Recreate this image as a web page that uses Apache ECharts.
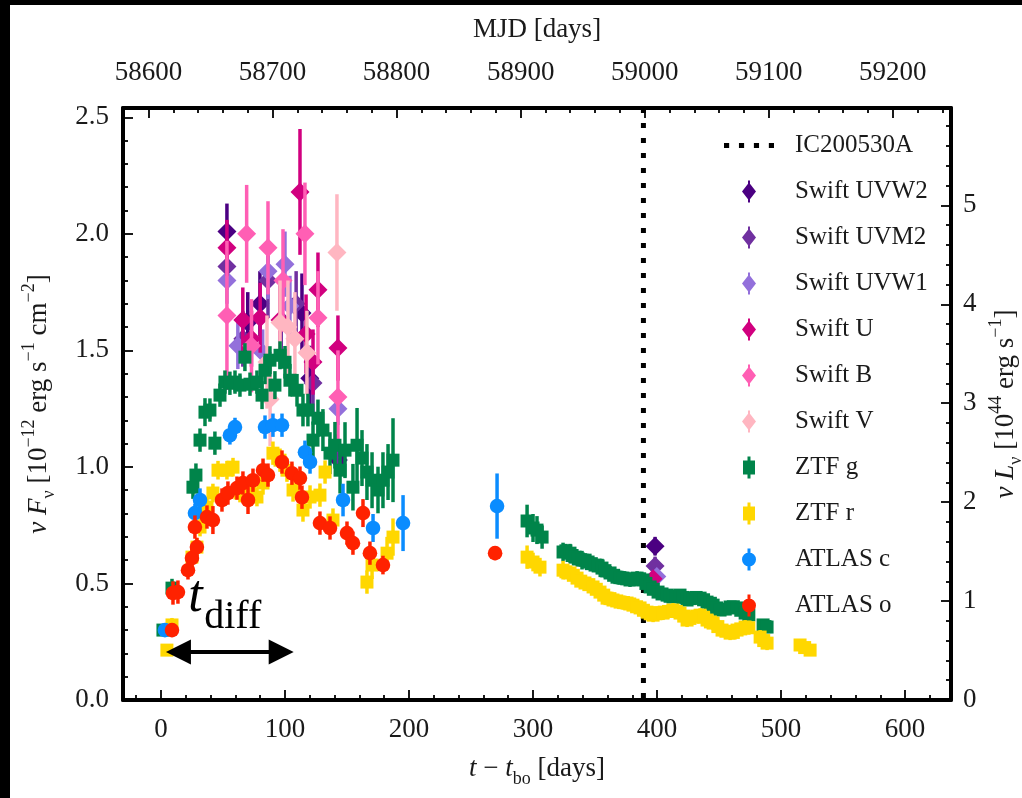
<!DOCTYPE html>
<html><head><meta charset="utf-8">
<script src="https://cdn.jsdelivr.net/npm/echarts@6/dist/echarts.min.js"></script>
<style>
html,body{margin:0;padding:0;background:#000;width:1022px;height:798px;overflow:hidden}
#c{position:absolute;left:10px;top:5px;width:1012px;height:793px;background:#fff}
</style></head><body><div id="c"></div>
<script>
// ---------- axis ranges / ticks ----------
const T_MIN = -30.6, T_MAX = 637;
const F_MIN = 0, F_MAX = 2.54;
const L_PER_F = 2.356;          // 10^44 erg/s per 10^-12 erg/s/cm2
const MJD_OFFSET = 58610;       // MJD of t_bo
const xMajor = [0, 100, 200, 300, 400, 500, 600];
const xMinor = [-20, 20, 40, 60, 80, 120, 140, 160, 180, 220, 240, 260, 280, 320, 340, 360, 380, 420, 440, 460, 480, 520, 540, 560, 580, 620];
const mjdMajor = [58600, 58700, 58800, 58900, 59000, 59100, 59200];
const mjdMinor = [58580, 58620, 58640, 58660, 58680, 58720, 58740, 58760, 58780, 58820, 58840, 58860, 58880, 58920, 58940, 58960, 58980, 59020, 59040, 59060, 59080, 59120, 59140, 59160, 59180, 59220, 59240];
const fMajor = [0, 0.5, 1.0, 1.5, 2.0, 2.5];
const fMinor = [0.1, 0.2, 0.3, 0.4, 0.6, 0.7, 0.8, 0.9, 1.1, 1.2, 1.3, 1.4, 1.6, 1.7, 1.8, 1.9, 2.1, 2.2, 2.3, 2.4];
const lMajor = [0, 1, 2, 3, 4, 5];
const lMinor = [0.2, 0.4, 0.6, 0.8, 1.2, 1.4, 1.6, 1.8, 2.2, 2.4, 2.6, 2.8, 3.2, 3.4, 3.6, 3.8, 4.2, 4.4, 4.6, 4.8, 5.2, 5.4, 5.6, 5.8];

// ---------- neutrino ----------
const icTime = [389];

// ---------- data: [t - t_bo (days), nuFnu (1e-12), error] ----------
const swiftUVW2 = [[53.2,2.01,0.12],[70,1.62,0.13],[79.8,1.70,0.14],[113.7,1.66,0.17],[120,1.38,0.14],[143,1.03,0.06],[398.4,0.66,0.04]];
const swiftUVM2 = [[53.2,1.86,0.10],[66,1.55,0.12],[86.3,1.80,0.16],[97,1.63,0.15],[109,1.70,0.14],[122.6,1.36,0.13],[142,1.07,0.07],[398.4,0.575,0.04]];
const swiftUVW1 = [[53.2,1.80,0.10],[62,1.52,0.10],[82,1.49,0.10],[86.3,1.84,0.12],[100,1.87,0.14],[104,1.69,0.13],[142.7,1.25,0.07],[399.8,0.53,0.03]];
const swiftU = [[53.2,1.94,0.12],[66,1.63,0.14],[73,1.55,0.12],[80,1.64,0.15],[96,1.63,0.16],[112.1,2.18,0.27],[117,1.57,0.17],[122.6,1.45,0.14],[126.6,1.76,0.16],[142.7,1.51,0.14],[396.8,0.52,0.03]];
const swiftB = [[53.2,1.65,0.32],[69.1,2.00,0.21],[73,1.52,0.20],[86.3,1.94,0.20],[98.4,1.80,0.22],[116.1,2.00,0.22],[126.6,1.64,0.20],[142.7,1.30,0.20]];
const swiftV = [[85.5,1.45,0.20],[88,1.29,0.20],[96,1.62,0.18],[102.4,1.60,0.20],[108,1.55,0.20],[117.7,1.49,0.18],[141.9,1.92,0.25]];
const ztfG = [[1.6,0.300,0.02],[8.9,0.480,0.04],[25.8,0.913,0.05],[28.2,0.965,0.05],[31.5,1.115,0.05],[35.5,1.235,0.06],[39.5,1.244,0.05],[43.5,1.102,0.05],[47.6,1.308,0.05],[51.6,1.364,0.05],[55.6,1.359,0.05],[59.7,1.364,0.05],[63.7,1.351,0.05],[67.7,1.471,0.06],[71.8,1.355,0.05],[77.4,1.364,0.05],[81.5,1.308,0.06],[83.9,1.415,0.06],[87.9,1.458,0.06],[91.9,1.351,0.06],[96.0,1.479,0.06],[100.0,1.449,0.07],[104.0,1.372,0.07],[109.7,1.329,0.07],[114.5,1.244,0.07],[118.5,1.244,0.07],[122.6,1.115,0.08],[126.6,1.209,0.08],[130.6,1.158,0.09],[136.3,1.059,0.09],[140.3,1.093,0.10],[144.4,0.986,0.10],[148.4,1.072,0.12],[154.8,0.913,0.10],[158.1,1.093,0.16],[162.1,1.038,0.12],[166.1,0.978,0.12],[170.2,0.943,0.12],[175.0,0.901,0.10],[179.0,0.943,0.12],[183.1,0.978,0.12],[187.1,1.029,0.18],[295.2,0.768,0.07],[300.0,0.738,0.06],[303.2,0.729,0.06],[307.3,0.699,0.05],[324.2,0.635,0.04],[326.5,0.640,0.03],[329.8,0.630,0.04],[331.5,0.620,0.03],[333.9,0.613,0.03],[336.5,0.605,0.03],[339.5,0.600,0.04],[342.0,0.600,0.03],[344.4,0.592,0.03],[347.0,0.585,0.03],[350.0,0.579,0.03],[352.5,0.575,0.03],[355.6,0.566,0.04],[358.0,0.555,0.03],[362.1,0.545,0.03],[365.0,0.535,0.03],[367.7,0.527,0.03],[370.0,0.525,0.03],[372.6,0.523,0.03],[375.5,0.520,0.03],[378.2,0.515,0.03],[381.0,0.518,0.03],[383.9,0.523,0.03],[386.0,0.520,0.03],[388.7,0.515,0.03],[391.0,0.500,0.03],[394.4,0.485,0.03],[397.0,0.475,0.02],[400.8,0.463,0.02],[404.0,0.455,0.02],[408.1,0.450,0.02],[410.5,0.445,0.02],[412.9,0.442,0.02],[415.5,0.445,0.02],[418.5,0.450,0.02],[421.0,0.440,0.02],[424.2,0.429,0.02],[426.5,0.435,0.02],[429.0,0.437,0.02],[431.5,0.440,0.02],[434.7,0.437,0.02],[437.5,0.430,0.02],[440.3,0.420,0.02],[443.0,0.415,0.02],[445.2,0.407,0.02],[448.0,0.395,0.02],[450.8,0.386,0.02],[455.0,0.390,0.02],[458.9,0.399,0.02],[461.5,0.400,0.02],[464.5,0.395,0.02],[467.5,0.385,0.02],[471.0,0.373,0.02],[474.0,0.365,0.02],[485.5,0.322,0.02],[487.0,0.315,0.02],[488.7,0.313,0.02]];
const ztfR = [[4.8,0.214,0.02],[8.9,0.322,0.03],[25.0,0.613,0.04],[29.0,0.656,0.04],[31.5,0.742,0.04],[37.1,0.828,0.04],[41.9,0.888,0.04],[46.0,0.986,0.04],[53.2,0.986,0.04],[58.1,0.999,0.04],[63.7,0.888,0.04],[71.8,0.913,0.04],[77.4,0.871,0.04],[82.3,0.931,0.05],[90.3,1.059,0.05],[96.0,1.029,0.05],[101.6,0.986,0.05],[106.5,0.901,0.05],[114.5,0.815,0.05],[120.2,0.871,0.05],[128.2,0.879,0.05],[132.3,0.978,0.05],[138.7,0.772,0.05],[166.1,0.506,0.05],[170.2,0.579,0.06],[182.3,0.630,0.07],[187.1,0.699,0.08],[295.2,0.613,0.05],[300.0,0.592,0.04],[305.6,0.570,0.04],[324.2,0.557,0.04],[326.5,0.550,0.03],[329.8,0.545,0.03],[332.5,0.535,0.03],[335.5,0.523,0.03],[338.5,0.510,0.03],[341.9,0.502,0.03],[345.0,0.495,0.03],[348.4,0.485,0.03],[351.0,0.475,0.03],[354.0,0.463,0.03],[357.0,0.450,0.03],[359.7,0.437,0.03],[362.0,0.435,0.03],[364.5,0.429,0.03],[367.5,0.425,0.03],[370.2,0.420,0.03],[373.0,0.418,0.03],[375.8,0.416,0.03],[378.0,0.412,0.03],[380.6,0.407,0.03],[383.5,0.400,0.03],[386.3,0.395,0.03],[389.0,0.385,0.03],[391.9,0.377,0.03],[394.5,0.370,0.03],[396.8,0.364,0.03],[399.0,0.370,0.03],[402.0,0.375,0.03],[404.8,0.373,0.03],[409.0,0.380,0.03],[412.9,0.386,0.03],[415.5,0.380,0.03],[418.5,0.373,0.03],[421.5,0.360,0.03],[424.2,0.343,0.03],[426.5,0.350,0.03],[429.0,0.356,0.03],[432.0,0.360,0.03],[434.7,0.364,0.03],[437.5,0.355,0.03],[440.3,0.343,0.03],[443.0,0.335,0.03],[445.2,0.330,0.03],[449.0,0.315,0.03],[452.4,0.300,0.03],[455.5,0.295,0.03],[458.9,0.287,0.03],[461.5,0.290,0.03],[464.5,0.300,0.03],[467.5,0.305,0.03],[471.0,0.313,0.03],[474.0,0.310,0.03],[483.1,0.270,0.03],[486.0,0.255,0.03],[488.7,0.244,0.03],[515.3,0.236,0.02],[519.0,0.225,0.02],[523.4,0.214,0.02]];
const atlasC = [[3.2,0.300,0.02],[27.4,0.802,0.04],[31.5,0.858,0.05],[55.6,1.136,0.04],[59.7,1.171,0.04],[83.9,1.171,0.05],[90.3,1.179,0.05],[97.6,1.179,0.05],[116.1,1.063,0.05],[120.2,1.021,0.05],[146.8,0.858,0.07],[171.0,0.738,0.06],[195.2,0.759,0.12],[271.0,0.832,0.14]];
const atlasO = [[8.9,0.300,0.03],[9.7,0.459,0.05],[13.7,0.463,0.05],[21.8,0.557,0.04],[25.0,0.609,0.04],[27.4,0.742,0.05],[29.0,0.656,0.04],[37.1,0.785,0.05],[41.9,0.772,0.06],[49.2,0.858,0.05],[54.0,0.888,0.05],[61.3,0.909,0.05],[66.1,0.931,0.05],[70.2,0.858,0.06],[74.2,0.943,0.05],[82.3,0.986,0.05],[86.3,0.965,0.05],[97.6,1.021,0.05],[105.6,0.973,0.05],[112.1,0.952,0.05],[113.7,0.870,0.05],[128.2,0.759,0.05],[136.3,0.738,0.05],[150.0,0.716,0.05],[154.8,0.673,0.05],[162.9,0.802,0.06],[168.5,0.630,0.05],[179.0,0.579,0.04],[269.4,0.630,0.03]];

// ---------- annotation ----------
const tdiffArrow = [[4, 107, 0.206]];
const tdiffLabel = [22, 0.33];

const FONT = "'Liberation Serif','DejaVu Serif',serif";
const TXT = '#1a1a1a';

const bands = [
  {name:'Swift UVW2', data:swiftUVW2, color:'#4B0082', shape:'D'},
  {name:'Swift UVM2', data:swiftUVM2, color:'#7030A0', shape:'D'},
  {name:'Swift UVW1', data:swiftUVW1, color:'#9370DB', shape:'D'},
  {name:'Swift U',    data:swiftU,    color:'#D1007F', shape:'D'},
  {name:'Swift B',    data:swiftB,    color:'#FF5FB4', shape:'D'},
  {name:'Swift V',    data:swiftV,    color:'#FFB6C1', shape:'D'},
  {name:'ZTF g',      data:ztfG,      color:'#00844A', shape:'s'},
  {name:'ZTF r',      data:ztfR,      color:'#FFD700', shape:'s'},
  {name:'ATLAS c',    data:atlasC,    color:'#0A8CFF', shape:'o'},
  {name:'ATLAS o',    data:atlasO,    color:'#FF2200', shape:'o'}
];
const markerSize = {D:9.5, s:6.5, o:7.3};
const iconPath = {
  D:'path://M6,0H8V4H6Z M6,18H8V22H6Z M7,2L14,11L7,20L0,11Z',
  s:'path://M5.5,0H8.5V6H5.5Z M5.5,16H8.5V22H5.5Z M1,4H13V18H1Z',
  o:'path://M5.5,0H8.5V5H5.5Z M5.5,17H8.5V22H5.5Z M14,11A7,7 0 1,1 0,11A7,7 0 1,1 14,11Z'
};
const dotIcon = 'path://M0,0H5V5H0Z M14.5,0H19.5V5H14.5Z M29,0H34V5H29Z M43.5,0H48.5V5H43.5Z';

function makeRender(shape, color) {
  const ms = markerSize[shape];
  return function (params, api) {
    const t = api.value(0), f = api.value(1), e = api.value(2);
    const c = api.coord([t, f]);
    const hi = api.coord([t, f + e]);
    const lo = api.coord([t, f - e]);
    const kids = [{type:'rect', shape:{x:c[0]-1.75, y:hi[1], width:3.5, height:lo[1]-hi[1]}, style:{fill:color}}];
    if (shape === 'D') {
      kids.push({type:'polygon', shape:{points:[[c[0],c[1]-ms],[c[0]+ms,c[1]],[c[0],c[1]+ms],[c[0]-ms,c[1]]]}, style:{fill:color}});
    } else if (shape === 's') {
      kids.push({type:'rect', shape:{x:c[0]-ms, y:c[1]-ms, width:2*ms, height:2*ms}, style:{fill:color}});
    } else {
      kids.push({type:'circle', shape:{cx:c[0], cy:c[1], r:ms}, style:{fill:color}});
    }
    return {type:'group', children:kids};
  };
}

const series = [];
series.push({
  name:'IC200530A', type:'line', xAxisIndex:0, yAxisIndex:0,
  data: [[icTime[0], F_MAX], [icTime[0], F_MIN]],
  symbol:'none', color:'#000',
  lineStyle:{color:'#000', width:5, type:[5,10], cap:'butt'},
  silent:true, z:2
});
bands.forEach(b => {
  series.push({
    name:b.name, type:'custom', xAxisIndex:0, yAxisIndex:0,
    data:b.data, encode:{x:0, y:1}, color:b.color, itemStyle:{color:b.color},
    renderItem:makeRender(b.shape, b.color), clip:true, z:3
  });
});
series.push({
  name:'tdiff', type:'custom', xAxisIndex:0, yAxisIndex:0, data:tdiffArrow, z:5, silent:true,
  renderItem:function (params, api) {
    const a = api.coord([api.value(0), api.value(2)]);
    const b = api.coord([api.value(1), api.value(2)]);
    const L = 25, H = 12.5, y = a[1];
    const lp = api.coord(tdiffLabel);
    return {type:'group', children:[
      {type:'rect', shape:{x:a[0]+L-3, y:y-1.9, width:(b[0]-a[0])-2*L+6, height:3.8}, style:{fill:'#000'}},
      {type:'polygon', shape:{points:[[a[0],y],[a[0]+L,y-H],[a[0]+L,y+H]]}, style:{fill:'#000'}},
      {type:'polygon', shape:{points:[[b[0],y],[b[0]-L,y-H],[b[0]-L,y+H]]}, style:{fill:'#000'}},
      {type:'text', x:lp[0], y:lp[1], style:{text:'t', font:"italic 52px 'Liberation Serif', serif", fill:'#000', align:'left', verticalAlign:'bottom'}},
      {type:'text', x:lp[0]+16, y:lp[1]+14, style:{text:'diff', font:"40px 'Liberation Serif', serif", fill:'#000', align:'left', verticalAlign:'bottom'}}
    ]};
  }
});

function tickAxis(base, values, len, showLabel, labelOpts) {
  return Object.assign({
    type:'value', splitLine:{show:false},
    axisLine:{show:false, onZero:false},
    axisTick:{show:true, inside:true, length:len, customValues:values, lineStyle:{color:'#000', width:1.8}},
    axisLabel:Object.assign({show:showLabel, customValues:values, color:TXT, fontFamily:FONT, fontSize:27}, labelOpts || {})
  }, base);
}

const nameStyleBase = {color:TXT, fontFamily:FONT, fontSize:27, lineHeight:38};
const rich = {
  i:{fontStyle:'italic', fontFamily:FONT, fontSize:27, color:TXT, lineHeight:38},
  sub:{fontFamily:FONT, fontSize:18, color:TXT, verticalAlign:'bottom', lineHeight:24},
  sup:{fontFamily:FONT, fontSize:18, color:TXT, verticalAlign:'top', lineHeight:20}
};

const xAxes = [
  tickAxis({position:'bottom', min:T_MIN, max:T_MAX,
    axisLine:{show:true, onZero:false, lineStyle:{color:'#000', width:4}},
    name:'{i|t} − {i|t}{sub|bo} [days]', nameLocation:'middle', nameGap:50,
    nameTextStyle:Object.assign({rich:rich}, nameStyleBase)}, xMajor, 10, true, {margin:16, formatter:v => String(v)}),
  tickAxis({position:'bottom', min:T_MIN, max:T_MAX}, xMinor, 5, false),
  tickAxis({position:'top', min:T_MIN + MJD_OFFSET, max:T_MAX + MJD_OFFSET,
    axisLine:{show:true, onZero:false, lineStyle:{color:'#000', width:4}},
    name:'MJD [days]', nameLocation:'middle', nameGap:59,
    nameTextStyle:Object.assign({}, nameStyleBase)}, mjdMajor, 10, true, {margin:22, formatter:v => String(v)}),
  tickAxis({position:'top', min:T_MIN + MJD_OFFSET, max:T_MAX + MJD_OFFSET}, mjdMinor, 5, false)
];
const yAxes = [
  tickAxis({position:'left', min:F_MIN, max:F_MAX,
    axisLine:{show:true, onZero:false, lineStyle:{color:'#000', width:4}},
    name:'{i|ν F}{sub|ν} [10{sup|−12} erg s{sup|−1} cm{sup|−2}]', nameLocation:'middle', nameGap:65, nameRotate:90,
    nameTextStyle:Object.assign({rich:rich}, nameStyleBase)}, fMajor, 10, true,
    {margin:14, formatter:v => v.toFixed(1)}),
  tickAxis({position:'left', min:F_MIN, max:F_MAX}, fMinor, 5, false),
  tickAxis({position:'right', min:F_MIN * L_PER_F, max:F_MAX * L_PER_F,
    axisLine:{show:true, onZero:false, lineStyle:{color:'#000', width:4}},
    name:'{i|ν L}{sub|ν} [10{sup|44} erg s{sup|−1}]', nameLocation:'middle', nameGap:31, nameRotate:90,
    nameTextStyle:Object.assign({rich:rich}, nameStyleBase)}, lMajor, 10, true, {margin:12, formatter:v => String(v)}),
  tickAxis({position:'right', min:F_MIN * L_PER_F, max:F_MAX * L_PER_F}, lMinor, 5, false)
];

const legendData = [{name:'IC200530A', icon:dotIcon}].concat(bands.map(b => ({name:b.name, icon:iconPath[b.shape]})));

const chart = echarts.init(document.getElementById('c'), null, {renderer:'canvas'});
chart.setOption({
  animation:false,
  backgroundColor:'#fff',
  grid:{left:113, right:71, top:103, bottom:98, containLabel:false, outerBoundsMode:'none'},
  xAxis:xAxes,
  yAxis:yAxes,
  legend:{
    orient:'vertical', left:714, top:128, itemWidth:50, itemHeight:22, itemGap:21, padding:0,
    data:legendData, selectedMode:false,
    formatter:n => '{n|' + n + '}',
    textStyle:{color:TXT, fontFamily:FONT, fontSize:25, rich:{n:{color:TXT, fontFamily:FONT, fontSize:25, padding:[0,0,0,16]}}}
  },
  series:series
});
</script></body></html>
